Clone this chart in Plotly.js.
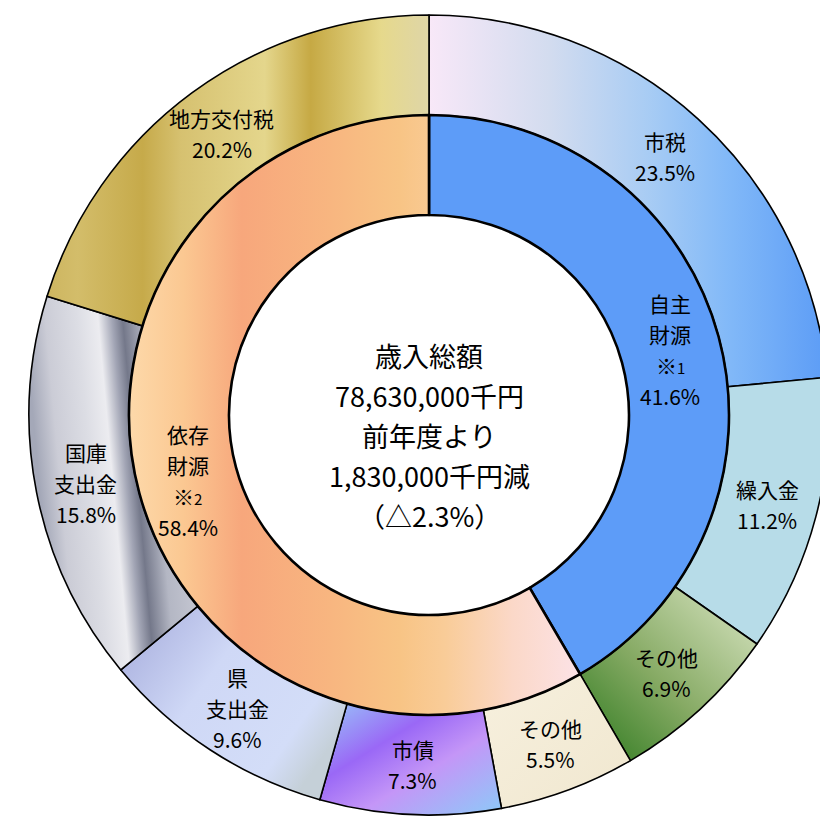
<!DOCTYPE html>
<html><head><meta charset="utf-8">
<script src="https://cdn.plot.ly/plotly-3.0.1.min.js"></script>
<style>
html,body{margin:0;padding:0;overflow:hidden;background:#fff;width:820px;height:827px}
#chart{width:858px;height:827px}
</style>
</head><body><div id="chart"></div>
<script>
// ---- data ----
const outerLabels = ['市税', '繰入金', 'その他', 'その他', '市債', '県<br>支出金', '国庫<br>支出金', '地方交付税'];
const outerValues = [23.5, 11.2, 6.9, 5.5, 7.3, 9.6, 15.8, 20.2];
const innerLabels = ['自主<br>財源<br>※<span style="font-size:15px">1</span>', '依存<br>財源<br>※<span style="font-size:15px">2</span>'];
const innerValues = [41.6, 58.4];
const centerLines = ['歳入総額', '78,630,000千円', '前年度より', '1,830,000千円減', '（△2.3%）'];

// ---- styles ----
const outerBase = ['#a9cdf4', '#b7dce8', '#86aa64', '#f4ecd7', '#b48af7', '#cfd8f6', '#c8cad4', '#d6c170'];
const innerBase = ['#5d9cf8', '#f8bc88'];
const outerGrad = [
  {x1:0,y1:0,x2:1,y2:0, s:[[0,'#f8e8f8'],[0.3,'#d3dcef'],[0.55,'#a8ccf4'],[0.75,'#82b9f8'],[1,'#5c9cf6']]},
  null,
  {x1:0,y1:1,x2:1,y2:0, s:[[0,'#2a781c'],[0.45,'#86aa64'],[1,'#dce7c6']]},
  {x1:0,y1:0,x2:1,y2:1, s:[[0,'#f7f0de'],[1,'#f0e7cf']]},
  {x1:0,y1:0,x2:1,y2:1, s:[[0,'#98c8f8'],[0.35,'#9a68f6'],[0.6,'#c496f7'],[1,'#8ccaf8']]},
  {x1:0,y1:0,x2:1,y2:0.6, s:[[0,'#a3a9da'],[0.45,'#cfd8f6'],[0.85,'#d3ddf8'],[1,'#c5d0d8']]},
  {x1:0,y1:0.2,x2:1,y2:0, s:[[0,'#a4a8b8'],[0.12,'#cbccd6'],[0.3,'#dcdde4'],[0.42,'#ececf0'],[0.5,'#a2a5b5'],[0.56,'#74788a'],[0.68,'#b4b7c4'],[1,'#d4d5de']]},
  {x1:0,y1:0,x2:1,y2:0, s:[[0,'#cdb560'],[0.08,'#d3bd6a'],[0.25,'#c6aa4a'],[0.35,'#d6c170'],[0.57,'#e4d68c'],[0.69,'#c6a944'],[0.875,'#e6d98c'],[0.975,'#e0d6a2'],[1,'#e2d8a6']]}
];
const innerGrad = [
  null,
  {x1:0,y1:0,x2:1,y2:0, s:[[0,'#fdd9aa'],[0.12,'#fbc892'],[0.25,'#f7a77c'],[0.45,'#f8b680'],[0.6,'#f8c485'],[0.7,'#f9cc98'],[0.85,'#fbd8c8'],[1,'#fce2e6']]}
];

// ---- geometry ----
const W = 858, H = 827, CX = 429, CY = 415, R_OUT = 400, R_MID = 300, R_HOLE = 200;
const font = "'Noto Sans CJK JP', 'Noto Sans', sans-serif";
const LABEL_SIZE = 21, LABEL_STEP = 31, CENTER_SIZE = 27, CENTER_STEP = 40;

function dom(r){
  return {x:[(CX-r)/W, (CX+r)/W], y:[(H-CY-r)/H, (H-CY+r)/H]};
}

const data = [
  {type:'pie', values:outerValues, labels:outerLabels.map((l,i)=>'o'+i), sort:false, direction:'clockwise', rotation:0,
   hole:R_MID/R_OUT, domain:dom(R_OUT), textinfo:'none', hoverinfo:'none',
   marker:{colors:outerBase, line:{color:'#000', width:1.6}}},
  {type:'pie', values:innerValues, labels:['i0','i1'], sort:false, direction:'clockwise', rotation:0,
   hole:R_HOLE/R_MID, domain:dom(R_MID), textinfo:'none', hoverinfo:'none',
   marker:{colors:innerBase, line:{color:'#000', width:2.6}}}
];

const annotations = [];
function stack(lines, xp, yp, baseShift, step, size){
  const n = lines.length;
  lines.forEach((t,j)=>{
    annotations.push({xref:'paper', yref:'paper', x:xp, y:yp, xanchor:'center', yanchor:'middle', showarrow:false,
      yshift: baseShift + ((n-1)/2 - j)*step, text:t, font:{family:font, size:size, color:'#000'}});
  });
}
function ringAnnots(values, labels, r){
  const tot = values.reduce((a,b)=>a+b,0);
  let cum = 0;
  values.forEach((v,i)=>{
    const th = 2*Math.PI*(cum + v/2)/tot; cum += v;
    const x = CX + r*Math.sin(th), y = CY - r*Math.cos(th);
    const lines = labels[i].split('<br>').concat([v.toFixed(1) + '%']);
    stack(lines, x/W, 1-y/H, 0, LABEL_STEP, LABEL_SIZE);
  });
}
ringAnnots(outerValues, outerLabels, (R_MID+R_OUT)/2);
ringAnnots(innerValues, innerLabels, (R_HOLE+R_MID)/2);
stack(centerLines, CX/W, 1-CY/H, -20, CENTER_STEP, CENTER_SIZE);

const layout = {width:W, height:H, margin:{l:0,r:0,t:0,b:0}, showlegend:false,
  paper_bgcolor:'#fff', plot_bgcolor:'#fff', annotations:annotations};

Plotly.newPlot('chart', data, layout, {staticPlot:true, displayModeBar:false}).then(gd=>{
  const NS = 'http://www.w3.org/2000/svg';
  const svg = gd.querySelector('.main-svg');
  let defs = svg.querySelector('defs');
  if(!defs){ defs = document.createElementNS(NS,'defs'); svg.insertBefore(defs, svg.firstChild); }
  function addGrad(id, g){
    const lg = document.createElementNS(NS,'linearGradient');
    lg.setAttribute('id', id);
    lg.setAttribute('x1', g.x1); lg.setAttribute('y1', g.y1);
    lg.setAttribute('x2', g.x2); lg.setAttribute('y2', g.y2);
    g.s.forEach(s=>{
      const st = document.createElementNS(NS,'stop');
      st.setAttribute('offset', s[0]); st.setAttribute('stop-color', s[1]);
      lg.appendChild(st);
    });
    defs.appendChild(lg);
  }
  const traces = gd.querySelectorAll('.pielayer .trace');
  [outerGrad, innerGrad].forEach((grads, t)=>{
    const paths = traces[t].querySelectorAll('.slice path.surface');
    paths.forEach((p, i)=>{
      if(grads[i]){
        const id = 'grad_' + t + '_' + i;
        addGrad(id, grads[i]);
        p.style.fill = 'url(#' + id + ')';
      }
    });
  });
});
</script>
</body></html>
